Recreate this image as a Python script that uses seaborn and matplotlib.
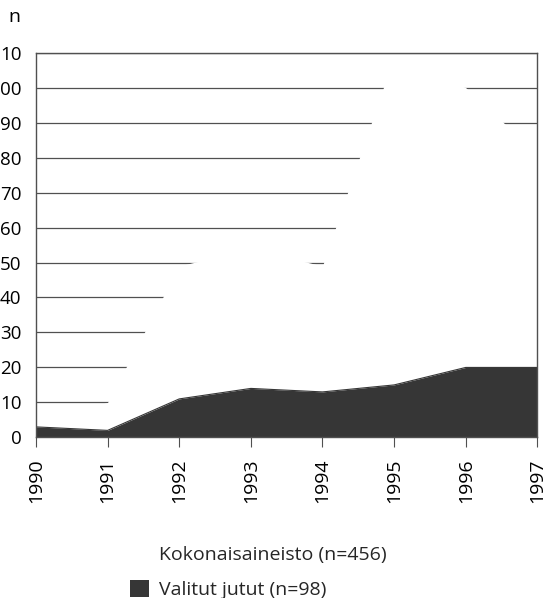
import matplotlib
matplotlib.use("Agg")
import matplotlib.pyplot as plt
import seaborn as sns
import pandas as pd
from matplotlib.patches import Patch

# ---- data ----
years = [1990, 1991, 1992, 1993, 1994, 1995, 1996, 1997]
kokonaisaineisto = [4, 10, 49, 54, 49, 109, 100, 81]   # total (n=456), drawn white
valitut = [3, 2, 11, 14, 13, 15, 20, 20]               # selected (n=98)
y_ticks = [0, 10, 20, 30, 40, 50, 60, 70, 80, 90, 100, 110]
y_ticklabels = ["0", "10", "20", "30", "40", "50", "60", "70", "80", "90", "00", "10"]
legend_labels = ["Kokonaisaineisto (n=456)", "Valitut jutut (n=98)"]

sns.set_theme(style="white")
plt.rcParams["font.family"] = ["Open Sans", "DejaVu Sans"]

df = pd.DataFrame({"vuosi": years, "Kokonaisaineisto": kokonaisaineisto, "Valitut": valitut})

dark = "#363636"
line_col = "#505050"

fig = plt.figure(figsize=(5.45, 5.98), dpi=100)
ax = fig.add_axes([0.066, 0.2686, 0.920, 0.6433])

ax.set_xlim(1990, 1997)
ax.set_ylim(0, 110)
ax.set_yticks(y_ticks)
ax.set_yticklabels(y_ticklabels, fontsize=13.5)
ax.set_xticks(years)
ax.set_xticklabels([str(y) for y in years])

ax.grid(axis="y", color=line_col, lw=0.9)
ax.grid(axis="x", visible=False)
ax.set_axisbelow(True)

ax.fill_between(df["vuosi"], 0, df["Kokonaisaineisto"], color="white", lw=0, zorder=1)
ax.fill_between(df["vuosi"], 0, df["Valitut"], color=dark, lw=0, zorder=2)
sns.lineplot(data=df, x="vuosi", y="Valitut", color=dark, lw=0.8, ax=ax, zorder=2.2)
ax.set_xlabel("")
ax.set_ylabel("")

for s in ax.spines.values():
    s.set_color(line_col)
    s.set_linewidth(1.0)

ax.tick_params(axis="x", bottom=True, length=7, width=0.8, color=line_col,
               direction="out", pad=8, labelsize=14, rotation=90, labelcolor="black")
ax.tick_params(axis="y", left=False, pad=4.5, labelcolor="black")

fig.text(14 / 545, 1 - 17 / 598, "n", ha="center", va="center", fontsize=14, color="black")

handles = [Patch(facecolor="white", edgecolor="none"), Patch(facecolor=dark, edgecolor="none")]
fig.legend(handles, legend_labels, loc="upper left", bbox_to_anchor=(0.2385, 0.089),
           frameon=False, fontsize=14, handlelength=1.0, handleheight=1.0,
           handletextpad=0.5, labelspacing=0.8, borderpad=0, borderaxespad=0)

fig.savefig("out.png", dpi=100)
